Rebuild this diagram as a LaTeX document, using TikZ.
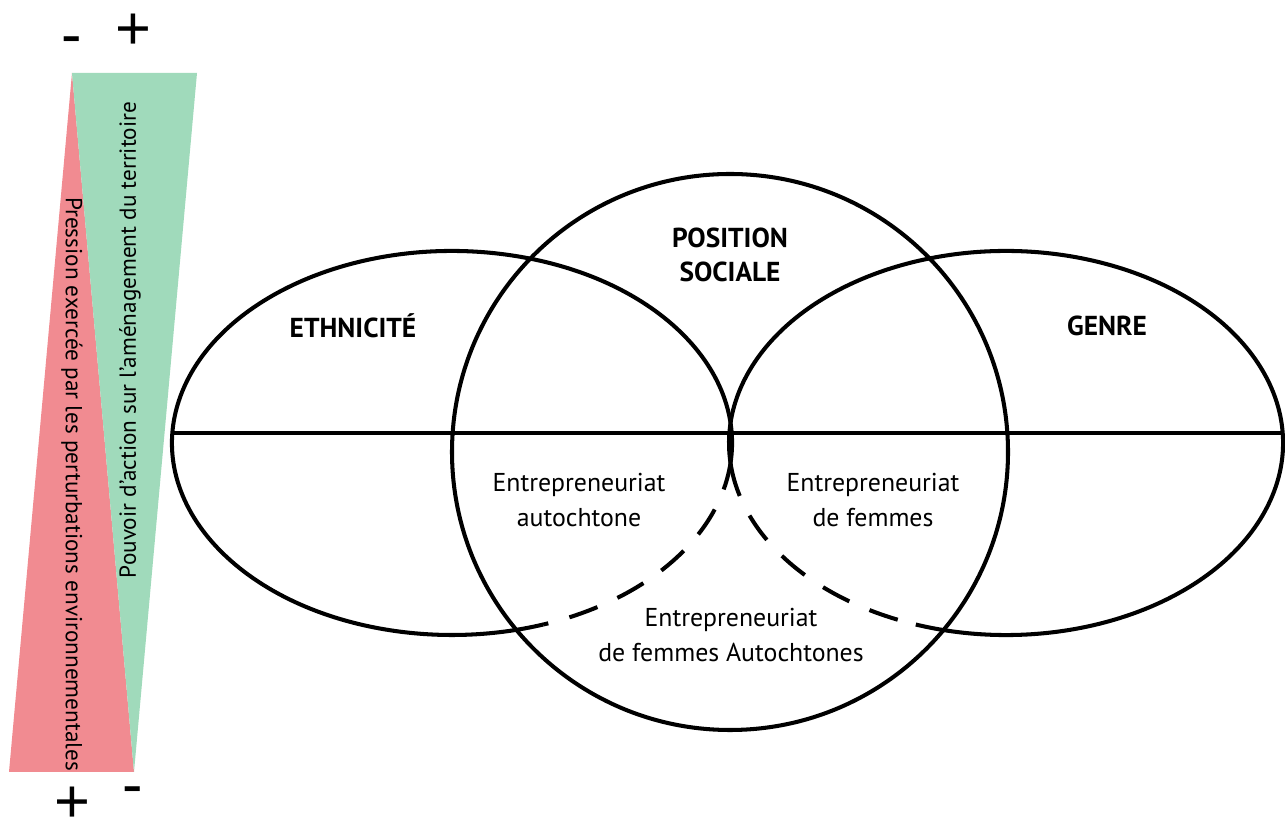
\documentclass[tikz,border=0pt]{standalone}
\usepackage{fontspec}
\setmainfont{PT Sans}
\newfontfamily\signfont{Liberation Sans}
\definecolor{pressred}{RGB}{241,139,145}
\definecolor{actiongreen}{RGB}{160,218,187}

\begin{document}
\begin{tikzpicture}[x=0.02cm,y=0.02cm,
		rim/.style={line width=2.3pt},
		cut/.style={line width=2.3pt,dash pattern=on 17pt off 12.5pt,dash phase=17pt},
		axis/.style={line width=1.8pt},
		lbl/.style={align=center,font=\fontsize{14.7}{19.8}\selectfont},
		title/.style={align=center,font=\fontsize{15.6}{19.8}\selectfont\bfseries},
		sign/.style={font=\signfont\fontsize{35}{35}\selectfont,inner sep=0pt,anchor=base},
		side/.style={font=\fontsize{13.2}{16}\selectfont,inner sep=0pt}]
		\useasboundingbox (0,0) rectangle (1285,828);
		\coordinate (top) at (72,755);
		\coordinate (gr) at (197,755);
		\coordinate (rl) at (9,56);
		\coordinate (bot) at (134,56);
		\fill[pressred] (top) -- (rl) -- (bot) -- cycle;
		\fill[actiongreen] (top) -- (gr) -- (bot) -- cycle;
		\node[side,rotate=-90] (press) at (72,344) {Pression exercée par les perturbations environnementales};
		\node[side,rotate=90] (power) at (130,488) {Pouvoir d'action sur l'aménagement du territoire};
		\node[sign] (mTop) at (72,772) {-};
		\node[sign] (pTop) at (133,778) {+};
		\node[sign] (pBot) at (72,5) {+};
		\node[sign] (mBot) at (133,22) {-};
		\draw[rim] (452,385) ++(-14:280 and 192) arc[start angle=-14,end angle=289,x radius=280,y radius=192];
		\draw[cut] (452,385) ++(-14:280 and 192) arc[start angle=-14,end angle=-71,x radius=280,y radius=192];
		\draw[rim] (1006,385) ++(251:277 and 192) arc[start angle=251,end angle=556,x radius=277,y radius=192];
		\draw[cut] (1006,385) ++(196:277 and 192) arc[start angle=196,end angle=251,x radius=277,y radius=192];
		\draw[rim] (730,376) circle[radius=278];
		\coordinate (west) at (172,395);
		\coordinate (east) at (1283,395);
		\draw[axis] (west) -- (east);
		\node[title] (ethn) at (353,502) {ETHNICITÉ};
		\node[title] (genre) at (1107,502) {GENRE};
		\node[title] (pos) at (730,573) {POSITION\\SOCIALE};
		\node[lbl] (auto) at (579,328) {Entrepreneuriat\\autochtone};
		\node[lbl] (fem) at (873,328) {Entrepreneuriat\\de femmes};
		\node[lbl] (femauto) at (731,193) {Entrepreneuriat\\de femmes Autochtones};
\end{tikzpicture}
\end{document}
